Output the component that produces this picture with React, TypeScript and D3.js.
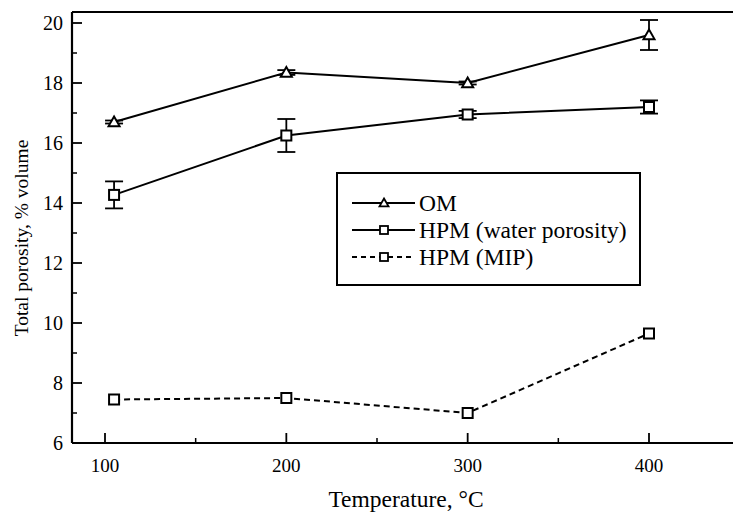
import React from "react";
import * as d3 from "d3";

const temps = [105, 200, 300, 400];
const omValues = [16.7, 18.35, 18.0, 19.6];
const omErrors = [0.05, 0.08, 0.05, 0.5];
const hpmWaterValues = [14.27, 16.25, 16.95, 17.2];
const hpmWaterErrors = [0.45, 0.55, 0.12, 0.22];
const hpmMipValues = [7.45, 7.5, 7.0, 9.65];
const xTicks = [100, 200, 300, 400];
const xMinorTicks = [150, 250, 350];
const yTicks = [6, 8, 10, 12, 14, 16, 18, 20];
const yMinorTicks = [7, 9, 11, 13, 15, 17, 19];
const legendLabels = ["OM", "HPM (water porosity)", "HPM (MIP)"];

const W = 733, H = 513;
const left = 72, right = 733, top = 12, bottom = 443;

export default function App() {
  const x = d3.scaleLinear().domain([100, 400]).range([105, 649]);
  const y = d3.scaleLinear().domain([6, 20]).range([443, 23]);
  const line = d3.line<number>().x((_, i) => x(temps[i])).y((d) => y(d));
  const font = "'Liberation Serif', 'Times New Roman', serif";

  const tri = (cx: number, cy: number, s = 5.5) =>
    `M${cx},${cy - s} L${cx + s},${cy + s * 0.75} L${cx - s},${cy + s * 0.75} Z`;

  const errBar = (xi: number, v: number, e: number, key: string) => {
    const cx = x(xi), t = y(v + e), b = y(v - e);
    return (
      <g key={key} stroke="#000" strokeWidth={1.8}>
        <line x1={cx} x2={cx} y1={t} y2={b} />
        <line x1={cx - 9} x2={cx + 9} y1={t} y2={t} />
        <line x1={cx - 9} x2={cx + 9} y1={b} y2={b} />
      </g>
    );
  };

  const lx = 337, ly = 173, lw = 303, lh = 112;
  const rows = [203, 230, 257];

  return (
    <svg width={W} height={H} style={{ position: "absolute", left: 0, top: 0, background: "#fff" }} fontFamily={font}>
      {/* frame */}
      <line x1={left} x2={left} y1={top} y2={bottom} stroke="#000" strokeWidth={2.2} />
      <line x1={left} x2={right} y1={bottom} y2={bottom} stroke="#000" strokeWidth={2.2} />
      <line x1={left} x2={right} y1={top} y2={top} stroke="#000" strokeWidth={2.2} />

      {/* y ticks */}
      {yTicks.map((t) => (
        <g key={"y" + t}>
          <line x1={left} x2={left + 10} y1={y(t)} y2={y(t)} stroke="#000" strokeWidth={1.8} />
          <text x={left - 9} y={y(t)} dy="0.35em" textAnchor="end" fontSize={20}>{t}</text>
        </g>
      ))}
      {yMinorTicks.map((t) => (
        <line key={"ym" + t} x1={left} x2={left + 5} y1={y(t)} y2={y(t)} stroke="#000" strokeWidth={1.5} />
      ))}
      {/* x ticks */}
      {xTicks.map((t) => (
        <g key={"x" + t}>
          <line x1={x(t)} x2={x(t)} y1={bottom} y2={bottom - 10} stroke="#000" strokeWidth={1.8} />
          <text x={x(t)} y={bottom + 29} textAnchor="middle" fontSize={19}>{t}</text>
        </g>
      ))}
      {xMinorTicks.map((t) => (
        <line key={"xm" + t} x1={x(t)} x2={x(t)} y1={bottom} y2={bottom - 5} stroke="#000" strokeWidth={1.5} />
      ))}

      {/* axis titles */}
      <text x={406} y={507} textAnchor="middle" fontSize={23.5}>Temperature, °C</text>
      <text transform="translate(28,238) rotate(-90)" textAnchor="middle" fontSize={19.5}>Total porosity, % volume</text>

      {/* series lines */}
      <path d={line(omValues) || ""} fill="none" stroke="#000" strokeWidth={2} />
      <path d={line(hpmWaterValues) || ""} fill="none" stroke="#000" strokeWidth={2} />
      <path d={line(hpmMipValues) || ""} fill="none" stroke="#000" strokeWidth={2} strokeDasharray="6,4" />

      {/* error bars */}
      {omValues.map((v, i) => errBar(temps[i], v, omErrors[i], "oe" + i))}
      {hpmWaterValues.map((v, i) => errBar(temps[i], v, hpmWaterErrors[i], "he" + i))}

      {/* markers */}
      {omValues.map((v, i) => (
        <path key={"om" + i} d={tri(x(temps[i]), y(v))} fill="#fff" stroke="#000" strokeWidth={2} />
      ))}
      {hpmWaterValues.map((v, i) => (
        <rect key={"hw" + i} x={x(temps[i]) - 5} y={y(v) - 5} width={10} height={10} fill="#fff" stroke="#000" strokeWidth={2} />
      ))}
      {hpmMipValues.map((v, i) => (
        <rect key={"hm" + i} x={x(temps[i]) - 5} y={y(v) - 5} width={10} height={10} fill="#fff" stroke="#000" strokeWidth={2} />
      ))}

      {/* legend */}
      <rect x={lx} y={ly} width={lw} height={lh} fill="#fff" stroke="#000" strokeWidth={2} />
      {legendLabels.map((lab, i) => {
        const cy = rows[i];
        return (
          <g key={"lg" + i}>
            <line x1={352} x2={415} y1={cy} y2={cy} stroke="#000" strokeWidth={1.8} strokeDasharray={i === 2 ? "5,4" : undefined} />
            {i === 0 ? (
              <path d={tri(384, cy, 4.5)} fill="#fff" stroke="#000" strokeWidth={1.8} />
            ) : (
              <rect x={380} y={cy - 4} width={8} height={8} fill="#fff" stroke="#000" strokeWidth={1.8} />
            )}
            <text x={419} y={cy} dy="0.35em" fontSize={23.5}>{lab}</text>
          </g>
        );
      })}
    </svg>
  );
}
